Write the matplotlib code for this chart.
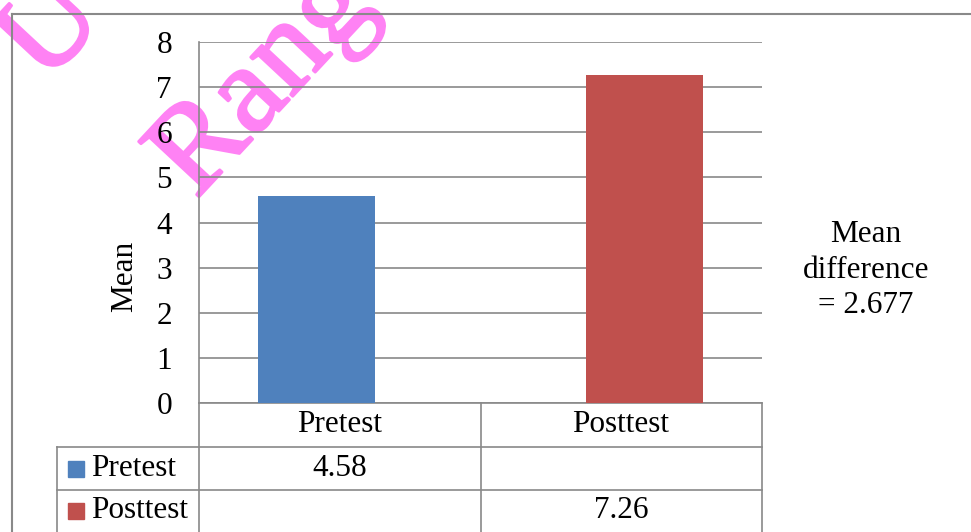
import matplotlib.pyplot as plt
import matplotlib.patheffects as pe
import numpy as np
from matplotlib.lines import Line2D
from matplotlib.patches import Rectangle

# dados do grafico
categorias = ['Pretest', 'Posttest']
series = ['Pretest', 'Posttest']
valores_pretest = [4.58, np.nan]
valores_posttest = [np.nan, 7.26]
rotulos_tabela_pretest = ['4.58', '']
rotulos_tabela_posttest = ['', '7.26']
y_ticks = [0, 1, 2, 3, 4, 5, 6, 7, 8]
nota = 'Mean\ndifference\n= 2.677'

cores = {'Pretest': '#4f81bd', 'Posttest': '#c0504d'}
cinza = '#898989'
rosa = '#ff82f4'

W, H = 971, 532
plt.rcParams['font.family'] = ['Liberation Serif', 'DejaVu Serif']
fs = 22.5

fig = plt.figure(figsize=(W / 100, H / 100), dpi=100)


def fx(px):
    return px / W


def fy(py):
    return 1 - py / H


# area do grafico
ax = fig.add_axes([fx(199), fy(403), fx(762) - fx(199), fy(42) - fy(403)])
ax.patch.set_alpha(0)

x = np.arange(len(categorias))
largura = 0.415
desloc = 0.083
ax.bar(x - desloc, valores_pretest, largura, color=cores['Pretest'], zorder=3)
ax.bar(x + desloc, valores_posttest, largura, color=cores['Posttest'], zorder=3)

ax.set_xlim(-0.5, len(categorias) - 0.5)
ax.set_ylim(0, 8)
ax.set_yticks(y_ticks)
ax.set_yticklabels([str(t) for t in y_ticks], fontsize=fs)
ax.tick_params(axis='y', length=0, pad=19.5)
ax.set_xticks([])
ax.grid(axis='y', color=cinza, linewidth=1.2, zorder=1)
for s in ['top', 'right']:
    ax.spines[s].set_visible(False)
ax.spines['left'].set_color(cinza)
ax.spines['bottom'].set_color(cinza)
ax.spines['left'].set_linewidth(1.2)
ax.spines['bottom'].set_linewidth(1.2)

fig.text(fx(125), fy(276), 'Mean', rotation=90, ha='center', va='center', fontsize=fs)
fig.text(fx(866), fy(270), nota, ha='center', va='center', fontsize=fs, linespacing=1.28)

# tabela de dados
def linha(x0, y0, x1, y1):
    fig.add_artist(Line2D([fx(x0), fx(x1)], [fy(y0), fy(y1)], color=cinza, lw=1.2))

for xv in [199, 481, 762]:
    linha(xv, 403, xv, 540)
linha(57, 447, 57, 540)
linha(57, 447, 762, 447)
linha(57, 490, 762, 490)

centros = [340, 621]
for c, cat in zip(centros, categorias):
    fig.text(fx(c), fy(425), cat, ha='center', va='center', fontsize=fs)

linhas_y = [469, 511]
valores_tab = [rotulos_tabela_pretest, rotulos_tabela_posttest]
for yc, nome, vals in zip(linhas_y, series, valores_tab):
    fig.add_artist(Rectangle((fx(68), fy(yc + 8)), fx(16), 16 / H, color=cores[nome]))
    fig.text(fx(91), fy(yc), nome, ha='left', va='center', fontsize=fs)
    for c, v in zip(centros, vals):
        fig.text(fx(c), fy(yc), v, ha='center', va='center', fontsize=fs)

# borda externa
fig.add_artist(Line2D([fx(12), 1], [fy(14), fy(14)], color=cinza, lw=1.5))
fig.add_artist(Line2D([fx(12), fx(12)], [fy(14), 0], color=cinza, lw=1.5))

# marca d'agua
contorno = [pe.withStroke(linewidth=2, foreground=rosa)]
fig.text(fx(196), fy(200), 'Rang', rotation=47, rotation_mode='anchor',
         ha='left', va='baseline', fontsize=90, color=rosa, zorder=-1,
         path_effects=contorno)
fig.text(fx(45), fy(85), 'U', rotation=47, rotation_mode='anchor',
         ha='left', va='baseline', fontsize=90, color=rosa, zorder=-1,
         path_effects=contorno)

fig.savefig('out.png', dpi=100)
